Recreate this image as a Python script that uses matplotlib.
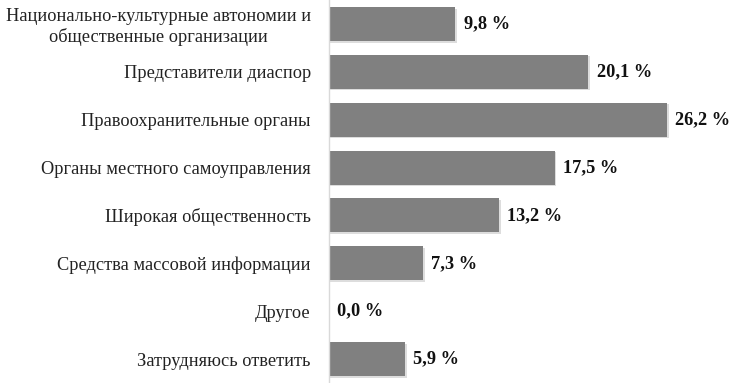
import matplotlib

matplotlib.use("Agg")
import matplotlib.pyplot as plt
import matplotlib.patheffects as pe

categories = [
    "Национально-культурные автономии и\nобщественные организации",
    "Представители диаспор",
    "Правоохранительные органы",
    "Органы местного самоуправления",
    "Широкая общественность",
    "Средства массовой информации",
    "Другое",
    "Затрудняюсь ответить",
]
values = [9.8, 20.1, 26.2, 17.5, 13.2, 7.3, 0.0, 5.9]
value_labels = ["9,8 %", "20,1 %", "26,2 %", "17,5 %", "13,2 %", "7,3 %", "0,0 %", "5,9 %"]

plt.rcParams["font.family"] = ["Liberation Serif", "DejaVu Serif"]

fig = plt.figure(figsize=(7.34, 3.83), dpi=100)
ax = fig.add_axes([0.448, 0.0, 0.552, 1.0])

pos = list(range(len(categories)))
bars = ax.barh(pos, values, height=0.71, color="#808080", zorder=2)
for b in bars:
    b.set_path_effects([
        pe.SimplePatchShadow(offset=(1.2, -1.2), shadow_rgbFace="#bdbdbd", alpha=0.5),
        pe.Normal(),
    ])

for y, v, lab in zip(pos, values, value_labels):
    ax.annotate(lab, xy=(v, y), xytext=(6, 0), textcoords="offset points",
                ha="left", va="center", fontsize=13.2, fontweight="bold", color="#111111")

ax.set_xlim(0, 31.4)
ax.set_ylim(7.5, -0.5)
ax.set_yticks(pos)
ax.set_yticklabels(categories, fontsize=13.2, color="#222222", multialignment="center")
ax.tick_params(axis="y", length=0, pad=13)
ax.set_xticks([])
for s in ["top", "right", "bottom"]:
    ax.spines[s].set_visible(False)
ax.spines["left"].set_color("#d9d9d9")
ax.spines["left"].set_linewidth(1.0)

fig.savefig("out.png", dpi=100)
